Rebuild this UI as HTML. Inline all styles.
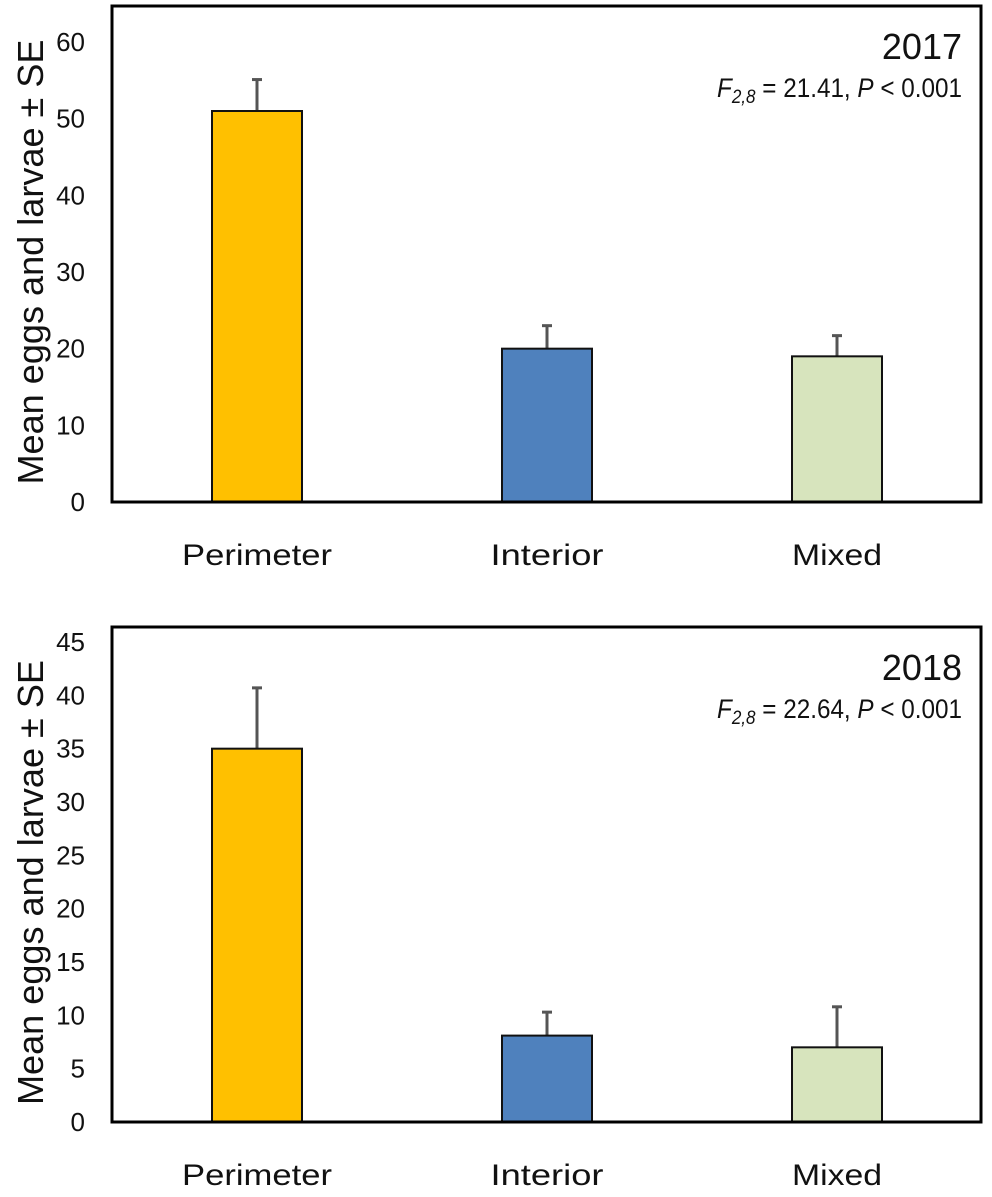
<!DOCTYPE html>
<html><head><meta charset="utf-8">
<style>
body{margin:0;background:#fff;}
svg text{font-family:"Liberation Sans",sans-serif;fill:#111;}
</style></head>
<body>
<svg id="chart" width="992" height="1192" viewBox="0 0 992 1192" xmlns="http://www.w3.org/2000/svg"></svg>
<script>
const categories = ["Perimeter", "Interior", "Mixed"];
const means2017 = [51, 20, 19];
const se2017 = [4.1, 3.0, 2.7];
const ticks2017 = [0, 10, 20, 30, 40, 50, 60];
const means2018 = [35, 8.1, 7.0];
const se2018 = [5.7, 2.2, 3.8];
const ticks2018 = [0, 5, 10, 15, 20, 25, 30, 35, 40, 45];
const colors = ["#FFC000", "#4F81BD", "#D7E4BD"];
const catWidths = [150, 113, 90];

const NS = "http://www.w3.org/2000/svg";
const svg = document.getElementById("chart");
function mk(tag, attrs, parent){ const e=document.createElementNS(NS,tag); for(const k in attrs) e.setAttribute(k,attrs[k]); (parent||svg).appendChild(e); return e; }

function panel(cfg){
  const g = mk("g", {});
  
  
  const y0 = cfg.bottom, yTopVal = cfg.topLabelY;
  const maxT = cfg.ticks[cfg.ticks.length-1];
  const yScale = v => y0 - v * (y0 - yTopVal) / maxT;
  const xCenter = i => 257 + i * 290;
  cfg.ticks.forEach(t => {
    const tx = mk("text", {x:85, y:yScale(t)+9, "text-anchor":"end", "font-size":26}, g);
    tx.textContent = t;
    
    
  });
  cfg.means.forEach((v,i) => {
    const x = xCenter(i);
    const eb = mk("line", {x1:x, x2:x, y1:yScale(v), y2:yScale(v+cfg.se[i]), stroke:"#555", "stroke-width":3}, g);
    
    
    const cap = mk("line", {x1:x-5, x2:x+5, y1:yScale(v+cfg.se[i]), y2:yScale(v+cfg.se[i]), stroke:"#555", "stroke-width":3}, g);
    
    
    const r = mk("rect", {x:x-45, y:yScale(v), width:90, height:y0-yScale(v), fill:colors[i], stroke:"#111", "stroke-width":2}, g);
    
    
    const lab = mk("text", {x:x, y:y0+63, "text-anchor":"middle", "font-size":30, textLength:catWidths[i], lengthAdjust:"spacingAndGlyphs"}, g);
    lab.textContent = categories[i];
    
    
  });
  const box = mk("rect", {x:112, y:cfg.boxTop, width:869, height:y0-cfg.boxTop, fill:"none", stroke:"#000", "stroke-width":3}, g);
  
  
  const yt = mk("text", {x:0, y:0, "text-anchor":"middle", "font-size":36, textLength:445, lengthAdjust:"spacingAndGlyphs", transform:`translate(43 ${(cfg.boxTop+y0)/2+8}) rotate(-90)`}, g);
  yt.textContent = "Mean eggs and larvae ± SE";
  
  
  const yr = mk("text", {x:962, y:cfg.boxTop+53, "text-anchor":"end", "font-size":36}, g);
  yr.textContent = cfg.year;
  
  
  const st = mk("text", {x:962, y:cfg.boxTop+91, "text-anchor":"end", "font-size":27, textLength:245, lengthAdjust:"spacingAndGlyphs"}, g);
  st.innerHTML = `<tspan font-style="italic">F</tspan><tspan font-style="italic" font-size="19" dy="6">2,8</tspan><tspan dy="-6"> = ${cfg.stat}, </tspan><tspan font-style="italic">P</tspan><tspan> &lt; 0.001</tspan>`;
  
  
}
panel({name:"panel-2017", year:"2017", stat:"21.41", means:means2017, se:se2017, ticks:ticks2017, bottom:502, topLabelY:42, boxTop:6});
panel({name:"panel-2018", year:"2018", stat:"22.64", means:means2018, se:se2018, ticks:ticks2018, bottom:1122, topLabelY:642, boxTop:627});
</script>
</body></html>
